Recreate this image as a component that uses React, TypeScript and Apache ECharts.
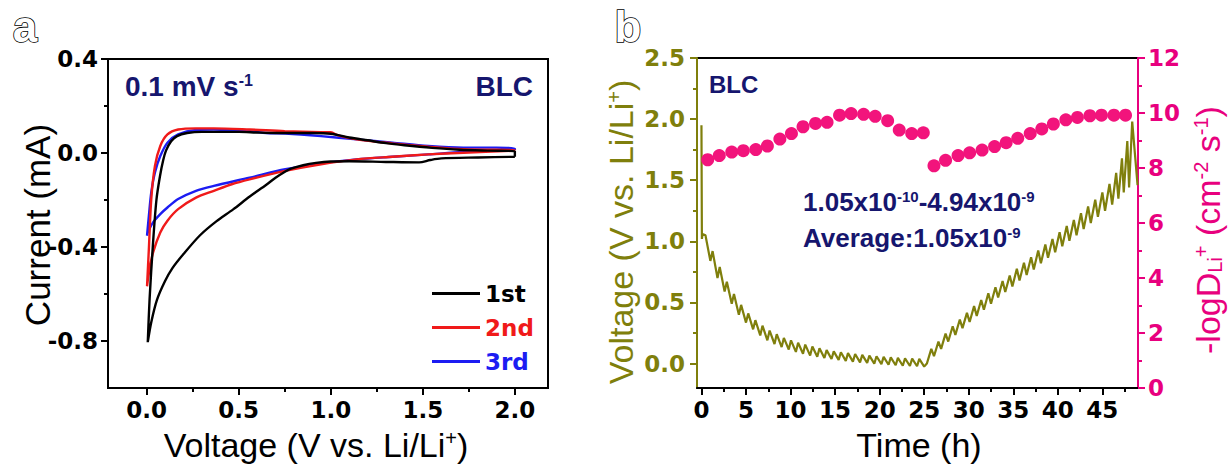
import React, { useEffect, useRef } from 'react';
import * as echarts from 'echarts';

// ---------- Panel a: cyclic voltammetry ----------
const cvNames = ['1st', '2nd', '3rd'];
const cvColors = ['#000000', '#f01a1a', '#1c1cf2'];

const cv1st: [number, number][] = [
  [2.0, -0.016], [1.8, -0.019], [1.6, -0.023], [1.54, -0.03], [1.48, -0.04], [1.3, -0.038], [1.1, -0.035],
  [1.0, -0.036], [0.92, -0.042], [0.85, -0.052], [0.78, -0.068], [0.74, -0.085], [0.7, -0.105], [0.65, -0.135],
  [0.56, -0.185], [0.47, -0.24], [0.38, -0.29], [0.29, -0.35], [0.2, -0.43], [0.14, -0.49], [0.1, -0.545],
  [0.056, -0.625], [0.025, -0.72], [0.006, -0.805],
  [0.016, -0.62], [0.034, -0.39], [0.053, -0.2], [0.072, -0.1], [0.09, -0.03], [0.105, 0.01], [0.133, 0.05],
  [0.165, 0.072], [0.22, 0.085], [0.3, 0.09], [0.4, 0.09], [0.5, 0.09], [0.6, 0.087], [0.7, 0.085],
  [0.8, 0.085], [0.9, 0.085], [1.0, 0.082], [1.1, 0.066], [1.2, 0.054], [1.3, 0.042], [1.4, 0.033],
  [1.55, 0.022], [1.7, 0.014], [1.85, 0.01], [2.0, 0.007], [2.0, -0.016],
];
const cv2nd: [number, number][] = [
  [2.0, 0.01], [1.72, 0.001], [1.53, -0.006], [1.335, -0.016], [1.14, -0.027], [0.947, -0.048], [0.753, -0.076],
  [0.559, -0.112], [0.462, -0.133], [0.365, -0.161], [0.268, -0.19], [0.171, -0.239], [0.113, -0.288],
  [0.074, -0.338], [0.035, -0.423], [0.016, -0.493], [0.002, -0.567],
  [0.012, -0.408], [0.025, -0.196], [0.045, -0.055], [0.074, 0.03], [0.113, 0.079], [0.171, 0.1],
  [0.268, 0.105], [0.365, 0.105], [0.56, 0.1], [0.75, 0.093], [0.947, 0.089], [1.0, 0.088], [1.04, 0.075],
  [1.14, 0.058], [1.335, 0.041], [1.53, 0.027], [1.72, 0.016], [2.0, 0.012], [2.0, 0.01],
];
const cv3rd: [number, number][] = [
  [2.0, 0.013], [1.72, 0.004], [1.53, -0.006], [1.335, -0.016], [1.14, -0.027], [0.947, -0.044], [0.753, -0.069],
  [0.559, -0.105], [0.365, -0.14], [0.268, -0.161], [0.171, -0.196], [0.113, -0.232], [0.074, -0.26],
  [0.035, -0.295], [0.006, -0.338], [0.002, -0.352],
  [0.012, -0.267], [0.025, -0.168], [0.045, -0.083], [0.074, -0.013], [0.113, 0.044], [0.171, 0.079],
  [0.268, 0.098], [0.365, 0.1], [0.56, 0.093], [0.65, 0.085], [0.753, 0.083], [0.947, 0.072], [1.14, 0.058],
  [1.335, 0.044], [1.53, 0.03], [1.72, 0.023], [1.9, 0.023], [2.0, 0.018], [2.0, 0.013],
];

const cvXTicks = [0, 0.5, 1.0, 1.5, 2.0];
const cvXMinor = [0.25, 0.75, 1.25, 1.75];
const cvYTicks = [-0.8, -0.4, 0, 0.4];
const cvYMinor = [-0.6, -0.2, 0.2];

// ---------- Panel b: GITT ----------
const gittVoltage: [number, number][] = [
  [0.0, 1.95], [0.05, 1.02], [0.12, 1.06],
  [0.45, 1.05], [1.0, 0.84], [1.25, 0.92], [1.8, 0.7], [2.05, 0.79], [2.6, 0.59], [2.85, 0.67], [3.4, 0.49],
  [3.65, 0.57], [4.2, 0.4], [4.45, 0.48], [5.0, 0.335], [5.25, 0.41], [5.8, 0.28], [6.05, 0.355], [6.6, 0.23],
  [6.85, 0.31], [7.4, 0.19], [7.65, 0.27], [8.2, 0.16], [8.45, 0.24], [9.0, 0.135], [9.25, 0.21], [9.8, 0.115],
  [10.05, 0.19], [10.6, 0.095], [10.85, 0.17], [11.4, 0.08], [11.65, 0.155], [12.2, 0.065], [12.45, 0.14],
  [13.0, 0.055], [13.25, 0.125], [13.8, 0.045], [14.05, 0.11], [14.6, 0.037], [14.85, 0.1], [15.4, 0.03],
  [15.65, 0.092], [16.2, 0.022], [16.45, 0.085], [17.0, 0.016], [17.25, 0.078], [17.8, 0.01], [18.05, 0.071],
  [18.6, 0.005], [18.85, 0.065], [19.4, 0.0], [19.65, 0.06], [20.2, -0.005], [20.45, 0.055], [21.0, -0.01],
  [21.25, 0.05], [21.8, -0.014], [22.05, 0.046], [22.6, -0.018], [22.85, 0.043], [23.4, -0.02], [23.65, 0.04],
  [24.2, -0.022], [24.45, 0.038], [25.0, -0.025],
  [25.3, 0.0], [25.8, 0.12], [26.1, 0.06], [26.6, 0.18], [26.9, 0.12], [27.4, 0.245], [27.7, 0.18], [28.2, 0.305],
  [28.5, 0.235], [29.0, 0.36], [29.3, 0.29], [29.8, 0.415], [30.1, 0.34], [30.6, 0.47], [30.9, 0.39], [31.4, 0.52],
  [31.7, 0.44], [32.2, 0.575], [32.5, 0.49], [33.0, 0.625], [33.3, 0.54], [33.8, 0.675], [34.1, 0.585], [34.6, 0.72],
  [34.9, 0.63], [35.4, 0.775], [35.7, 0.68], [36.2, 0.825], [36.5, 0.725], [37.0, 0.87], [37.3, 0.77],
  [37.8, 0.925], [38.1, 0.82], [38.6, 0.975], [38.9, 0.865], [39.4, 1.02], [39.7, 0.91], [40.2, 1.075],
  [40.5, 0.96], [41.0, 1.125], [41.3, 1.005], [41.8, 1.175], [42.1, 1.05], [42.6, 1.23], [42.9, 1.1],
  [43.4, 1.285], [43.7, 1.15], [44.2, 1.34], [44.5, 1.2], [45.0, 1.4], [45.3, 1.25], [45.8, 1.47],
  [46.1, 1.3], [46.55, 1.56], [46.8, 1.35], [47.2, 1.68], [47.4, 1.4], [47.8, 1.82], [48.0, 1.44],
  [48.35, 1.98], [48.95, 1.46],
];

const logDTimes = [0.7, 2.0, 3.4, 4.7, 6.1, 7.4, 8.8, 10.1, 11.4, 12.8, 14.1, 15.5, 16.8, 18.2, 19.5, 20.9, 22.2,
  23.6, 24.9, 26.1, 27.4, 28.8, 30.1, 31.5, 32.9, 34.2, 35.5, 36.9, 38.2, 39.5, 40.9, 42.2, 43.6, 44.9, 46.3, 47.6];
const logDValues = [8.3, 8.45, 8.58, 8.63, 8.67, 8.8, 9.05, 9.25, 9.5, 9.62, 9.66, 9.92, 9.98, 9.95, 9.88, 9.72,
  9.38, 9.25, 9.28, 8.08, 8.28, 8.45, 8.55, 8.65, 8.78, 8.92, 9.08, 9.25, 9.42, 9.6, 9.75, 9.84, 9.9, 9.92,
  9.92, 9.92];

const timeTicks = [0, 5, 10, 15, 20, 25, 30, 35, 40, 45];
const timeMinor = [2.5, 7.5, 12.5, 17.5, 22.5, 27.5, 32.5, 37.5, 42.5, 47.5];
const voltTicks = [0, 0.5, 1.0, 1.5, 2.0, 2.5];
const voltMinor = [0.25, 0.75, 1.25, 1.75, 2.25];
const logDTicks = [0, 2, 4, 6, 8, 10, 12];
const logDMinor = [1, 3, 5, 7, 9, 11];

// ---------- styling ----------
const OLIVE = '#7f7f0c';
const PINK = '#f2147c';
const PINK_AXIS = '#e8007e';
const NAVY = '#16166e';
const TICK_FONT = 'DejaVu Sans';
const TITLE_FONT = '"Liberation Sans", Arial, sans-serif';
const F = (size: number, weight = 'bold') => `${weight} ${size}px ${TITLE_FONT}`;

function mainAxis(gridIndex: number, min: number, max: number, position: string, ticks: number[],
  color: string, fmt: (v: number) => string, margin: number) {
  return {
    type: 'value', gridIndex, min, max, position,
    axisLine: { show: true, onZero: false, lineStyle: { color, width: 2 } },
    axisTick: { show: true, customValues: ticks, length: 7, inside: false, lineStyle: { color, width: 2 } },
    axisLabel: {
      show: true, customValues: ticks, formatter: fmt, margin, color,
      fontFamily: TICK_FONT, fontWeight: 'bold', fontSize: 23,
    },
    splitLine: { show: false },
  };
}
function minorAxis(gridIndex: number, min: number, max: number, position: string, ticks: number[], color: string) {
  return {
    type: 'value', gridIndex, min, max, position,
    axisLine: { show: false, onZero: false },
    axisTick: { show: true, customValues: ticks, length: 4, inside: false, lineStyle: { color, width: 2 } },
    axisLabel: { show: false },
    splitLine: { show: false },
  };
}

const f1 = (v: number) => v.toFixed(1);
const f0 = (v: number) => String(Math.round(v));

const supRich = (size: number, color: string, weight = 'normal') => ({
  t: { font: F(size, weight), fill: color },
  sup: { font: F(Math.round(size * 0.58), weight), fill: color, verticalAlign: 'top' },
  sub: { font: F(Math.round(size * 0.58), weight), fill: color, verticalAlign: 'bottom' },
});

function textEl(x: number, y: number, text: string, size: number, color: string, weight: string,
  align: string, rotation = 0) {
  return {
    type: 'text', x, y, rotation,
    style: {
      text, font: F(size, weight), fill: color, textAlign: align, textVerticalAlign: 'middle',
      rich: supRich(size, color, weight),
    },
  };
}

function panelLabel(x: number, y: number, letter: string) {
  return {
    type: 'text', x, y,
    style: {
      text: letter, font: F(44, 'bold'), fill: '#fff', stroke: '#000', lineWidth: 1.6,
      textAlign: 'center', textVerticalAlign: 'middle',
    },
  };
}

const option: any = {
  animation: false,
  backgroundColor: '#ffffff',
  grid: [
    { left: 108, top: 59, width: 440, height: 329, show: true, borderColor: '#000', borderWidth: 2, outerBoundsMode: 'none' },
    { left: 697, top: 58, width: 441, height: 330, show: true, borderColor: '#000', borderWidth: 2, outerBoundsMode: 'none' },
  ],
  xAxis: [
    mainAxis(0, -0.21, 2.18, 'bottom', cvXTicks, '#000', f1, 10),
    minorAxis(0, -0.21, 2.18, 'bottom', cvXMinor, '#000'),
    mainAxis(1, -0.5, 49, 'bottom', timeTicks, '#000', f0, 10),
    minorAxis(1, -0.5, 49, 'bottom', timeMinor, '#000'),
  ],
  yAxis: [
    mainAxis(0, -1.0, 0.4, 'left', cvYTicks, '#000', f1, 10),
    minorAxis(0, -1.0, 0.4, 'left', cvYMinor, '#000'),
    mainAxis(1, -0.2, 2.5, 'left', voltTicks, OLIVE, f1, 12),
    minorAxis(1, -0.2, 2.5, 'left', voltMinor, OLIVE),
    mainAxis(1, 0, 12, 'right', logDTicks, PINK_AXIS, f0, 10),
    minorAxis(1, 0, 12, 'right', logDMinor, PINK_AXIS),
  ],
  legend: {
    orient: 'vertical', left: 432, top: 282, padding: 0, itemWidth: 48, itemHeight: 3, itemGap: 11,
    icon: 'rect',
    textStyle: { fontFamily: TICK_FONT, fontWeight: 'bold', fontSize: 23, lineHeight: 23 },
    data: cvNames.map((n, i) => ({ name: n, textStyle: { color: cvColors[i] } })),
  },
  series: [
    ...[cv1st, cv2nd, cv3rd].map((d, i) => ({
      name: cvNames[i], type: 'line', xAxisIndex: 0, yAxisIndex: 0, data: d, showSymbol: false,
      symbol: 'none', smooth: 0.3, color: cvColors[i], lineStyle: { color: cvColors[i], width: 2.4 }, z: 5 - i,
    })),
    {
      name: 'Voltage', type: 'line', xAxisIndex: 2, yAxisIndex: 2, data: gittVoltage, symbol: 'none',
      color: OLIVE, lineStyle: { color: OLIVE, width: 2.2 }, z: 2,
    },
    {
      name: '-logD', type: 'scatter', xAxisIndex: 2, yAxisIndex: 4,
      data: logDTimes.map((t, i) => [t, logDValues[i]]), symbol: 'circle', symbolSize: 13,
      itemStyle: { color: PINK, opacity: 1 }, z: 3,
    },
  ],
  graphic: [
    panelLabel(25, 26, 'a'),
    panelLabel(628, 26, 'b'),
    textEl(125, 86, '{t|0.1 mV s}{sup|-1}', 28, NAVY, 'bold', 'left'),
    textEl(533, 86, 'BLC', 28, NAVY, 'bold', 'right'),
    textEl(709, 84, 'BLC', 24, NAVY, 'bold', 'left'),
    textEl(803, 202, '{t|1.05x10}{sup|-10}{t|-4.94x10}{sup|-9}', 26, NAVY, 'bold', 'left'),
    textEl(803, 238, '{t|Average:1.05x10}{sup|-9}', 26, NAVY, 'bold', 'left'),
    textEl(316, 445, '{t|Voltage (V vs. Li/Li}{sup|+}{t|)}', 34, '#000', 'normal', 'center'),
    textEl(37, 225, '{t|Current (mA)}', 35, '#000', 'normal', 'center', Math.PI / 2),
    textEl(919, 445, '{t|Time (h)}', 34, '#000', 'normal', 'center'),
    textEl(621, 232, '{t|Voltage (V vs. Li/Li}{sup|+}{t|)}', 34, OLIVE, 'normal', 'center', Math.PI / 2),
    textEl(1208, 230, '{t|-logD}{sub|Li}{sup|+}{t| (cm}{sup|-2}{t| s}{sup|-1}{t|)}', 34, PINK_AXIS, 'normal', 'center', Math.PI / 2),
  ],
};

export default function App() {
  const ref = useRef<HTMLDivElement>(null);
  useEffect(() => {
    if (!ref.current) return;
    const chart = echarts.init(ref.current, undefined, { renderer: 'svg' });
    chart.setOption(option);
    return () => chart.dispose();
  }, []);
  return (
    <div
      ref={ref}
      style={{ position: 'absolute', left: 0, top: 0, width: 1231, height: 467, background: '#fff' }}
    />
  );
}
